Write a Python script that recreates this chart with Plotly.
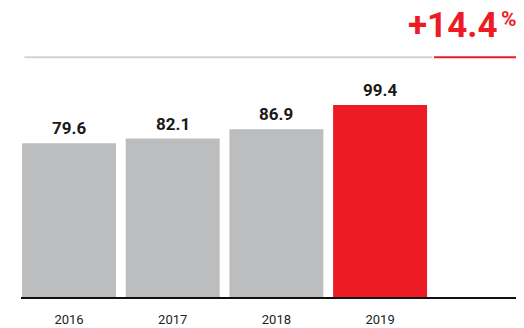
import plotly.graph_objects as go

years = ["2016", "2017", "2018", "2019"]
values = [79.6, 82.1, 86.9, 99.4]
growth_label = "+14.4"
growth_unit = "%"
colors = ["#BCBDBF", "#BCBDBF", "#BCBDBF", "#ED1C24"]

xs = list(range(len(years)))
RED = "#ED1C24"
FONT = "Roboto"

fig = go.Figure()
fig.add_trace(go.Bar(
    x=xs, y=values, marker=dict(color=colors, line=dict(width=0)),
    width=0.906, hoverinfo="skip",
))

for x, v in zip(xs, values):
    fig.add_annotation(
        x=x, y=v, xref="x", yref="y", text=f"<b>{v:.1f}</b>",
        showarrow=False, yanchor="bottom", yshift=3,
        font=dict(family=FONT, size=17, color="#1a1a1a"),
    )

fig.add_annotation(
    x=1, y=0.87, xref="paper", yref="paper",
    text=f"<b>{growth_label}</b>",
    showarrow=False, xanchor="right", yanchor="bottom", xshift=-25, yshift=-2,
    font=dict(family=FONT, size=35, color=RED),
)
fig.add_annotation(
    x=1, y=0.99, xref="paper", yref="paper",
    text=f"<b>{growth_unit}</b>",
    showarrow=False, xanchor="right", yanchor="top", xshift=-5, yshift=6,
    font=dict(family=FONT, size=21, color=RED),
)

fig.add_shape(type="line", xref="x", yref="paper", x0=-0.43, x1=3.5,
              y0=0.83, y1=0.83, line=dict(color="#D3D3D3", width=2))
fig.add_shape(type="line", xref="x", yref="paper", x0=3.52, x1=4.388,
              y0=0.83, y1=0.83, line=dict(color=RED, width=2))

fig.update_layout(
    width=516, height=320,
    margin=dict(l=13, r=0, t=0, b=31),
    paper_bgcolor="white", plot_bgcolor="white",
    showlegend=False,
    xaxis=dict(
        range=[-0.463, 4.388], tickmode="array", tickvals=xs, ticktext=years,
        showgrid=False, zeroline=False, showline=True, linecolor="#111111",
        linewidth=2, ticks="", ticklabelstandoff=9,
        tickfont=dict(family=FONT, size=13, color="#222222"),
    ),
    yaxis=dict(range=[0, 149.7], visible=False, showgrid=False, zeroline=False),
)

fig.write_html("out.html")
